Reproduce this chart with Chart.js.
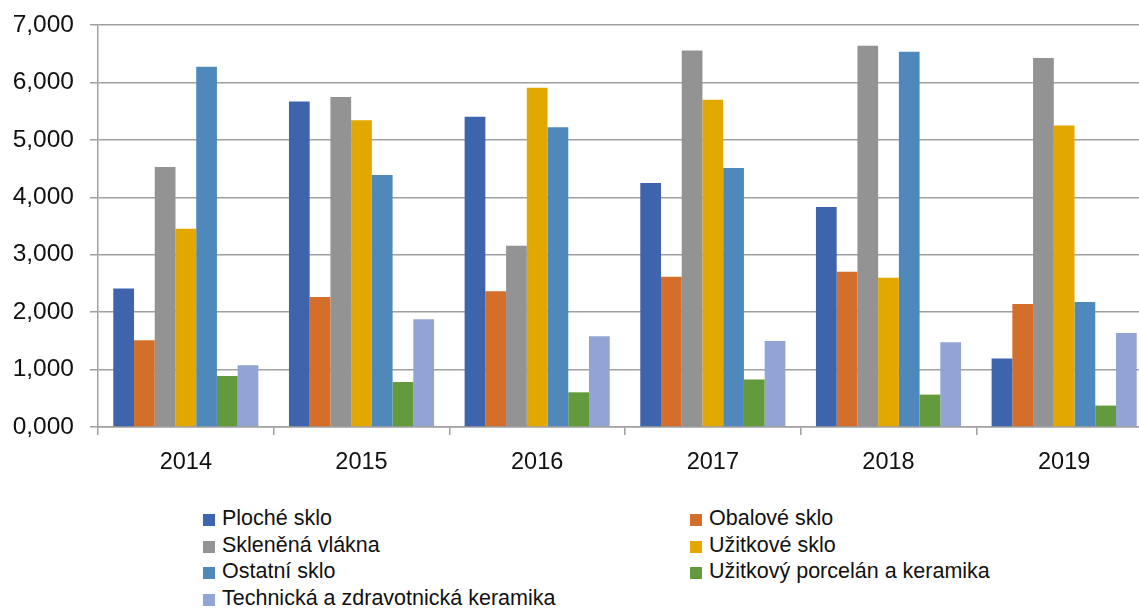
<!DOCTYPE html>
<html>
<head>
<meta charset="utf-8">
<script src="https://cdn.jsdelivr.net/npm/chart.js@4"></script>
<style>
  html, body { margin: 0; padding: 0; background: #fff; overflow: hidden; }
  #wrap { position: relative; width: 1139px; height: 608px; overflow: hidden; }
  #c { position: absolute; left: 0; top: 0; }
  #legend {
    position: absolute; left: 203px; top: 505px;
    display: grid; grid-template-columns: 487px 440px;
    font-family: "Liberation Sans", Arial, sans-serif; font-size: 21.5px; color: #111;
  }
  #legend .it { height: 26.5px; line-height: 26.5px; white-space: nowrap; }
  #legend .box { display: inline-block; width: 12px; height: 12px; margin-right: 7px; vertical-align: -1px; }
</style>
</head>
<body>
<div id="wrap">
  <canvas id="c" width="1152" height="480"></canvas>
  <div id="legend"></div>
</div>
<script>
// years on the x axis
var years = ['2014', '2015', '2016', '2017', '2018', '2019'];

// series
var plocheSklo     = [2410, 5666, 5404, 4249, 3831, 1191];
var obaloveSklo    = [1510, 2264, 2363, 2618, 2705, 2142];
var sklenenaVlakna = [4527, 5746, 3158, 6554, 6640, 6426];
var uzitkoveSklo   = [3454, 5340, 5909, 5700, 2601, 5248];
var ostatniSklo    = [6275, 4388, 5218, 4510, 6536, 2177];
var porcelan       = [888, 784, 604, 825, 564, 373];
var technicka      = [1074, 1875, 1579, 1497, 1475, 1637];

var seriesNames = ['Ploché sklo', 'Obalové sklo', 'Skleněná vlákna', 'Užitkové sklo',
  'Ostatní sklo', 'Užitkový porcelán a keramika', 'Technická a zdravotnická keramika'];
var seriesData = [plocheSklo, obaloveSklo, sklenenaVlakna, uzitkoveSklo, ostatniSklo, porcelan, technicka];
var COLORS = ['#3d64ad', '#d46f2b', '#939393', '#e2a800', '#4f89bc', '#639a3d', '#91a4d3'];

// y ticks
var yMin = 0, yMax = 7000, yStep = 1000;

function fmtTick(v) {
  var th = Math.floor(v / 1000);
  var rest = String(v % 1000);
  while (rest.length < 3) rest = '0' + rest;
  return th + ',' + rest;
}

var datasets = [];
for (var i = 0; i < seriesNames.length; i++) {
  datasets.push({
    label: seriesNames[i],
    data: seriesData[i],
    backgroundColor: COLORS[i],
    borderWidth: 0,
    categoryPercentage: 0.826,
    barPercentage: 1.0
  });
}

var FONT_X = { family: '"Liberation Sans", Arial, sans-serif', size: 23.5 };
var FONT_Y = { family: '"Liberation Sans", Arial, sans-serif', size: 24.5 };
var GRID = '#a0a0a0';

var chart = new Chart(document.getElementById('c'), {
  type: 'bar',
  data: { labels: years, datasets: datasets },
  options: {
    responsive: false,
    animation: false,
    layout: { padding: { top: 25, left: 0, right: 0, bottom: 0 } },
    plugins: { legend: { display: false }, tooltip: { enabled: false } },
    scales: {
      x: {
        grid: { offset: true, drawOnChartArea: false, drawTicks: true, tickLength: 8, color: GRID, lineWidth: 1.5 },
        border: { display: true, color: GRID, width: 1.5 },
        ticks: { color: '#111', font: FONT_X, padding: 13, maxRotation: 0 },
        afterFit: function (s) { s.height = 53; s.paddingTop = 0; }
      },
      y: {
        min: yMin, max: yMax,
        grid: { color: GRID, lineWidth: 1.5, tickLength: 8 },
        border: { display: true, color: GRID, width: 1.5 },
        ticks: { stepSize: yStep, color: '#111', font: FONT_Y, padding: 16, callback: function (v) { return fmtTick(v); } },
        afterFit: function (s) { s.width = 98; s.paddingTop = 0; s.paddingBottom = 0; }
      }
    }
  }
});

// html legend in two columns
var lg = document.getElementById('legend');
chart.data.datasets.forEach(function (ds) {
  var d = document.createElement('div');
  d.className = 'it';
  d.innerHTML = '<span class="box" style="background:' + ds.backgroundColor + '"></span>' + ds.label;
  lg.appendChild(d);
});
</script>
</body>
</html>
